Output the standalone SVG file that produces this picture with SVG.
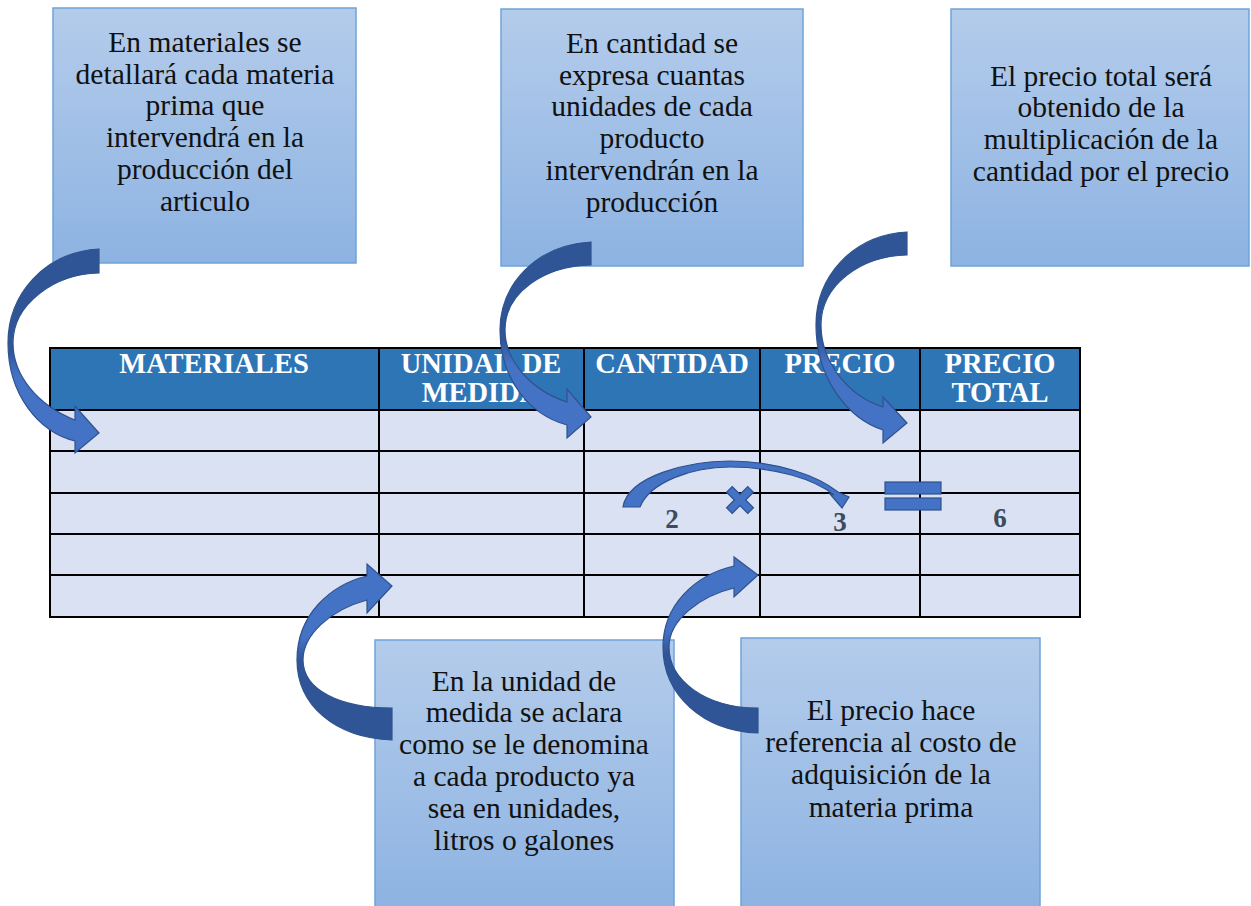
<svg xmlns="http://www.w3.org/2000/svg" width="1251" height="906" viewBox="0 0 1251 906">
<defs>
<linearGradient id="boxg" x1="0" y1="0" x2="0" y2="1">
<stop offset="0" stop-color="#b4cceb"/>
<stop offset="1" stop-color="#8db3e2"/>
</linearGradient>
<linearGradient id="arrDown" x1="0" y1="0" x2="0" y2="1">
<stop offset="0" stop-color="#2f5597"/>
<stop offset="0.5" stop-color="#2f5597"/>
<stop offset="0.62" stop-color="#4472c4"/>
<stop offset="1" stop-color="#4472c4"/>
</linearGradient>
<linearGradient id="arrUp" x1="0" y1="0" x2="0" y2="1">
<stop offset="0" stop-color="#4472c4"/>
<stop offset="0.42" stop-color="#4472c4"/>
<stop offset="0.55" stop-color="#2f5597"/>
<stop offset="1" stop-color="#2f5597"/>
</linearGradient>
<style>
.box{fill:url(#boxg);stroke:#6fa3d8;stroke-width:1.5}
.bt{font-family:"Liberation Serif","Times New Roman",serif;font-size:29.5px;fill:#111;text-anchor:middle}
.hd{fill:#2e75b6;stroke:#000;stroke-width:2}
.bd{fill:#d9e1f2;stroke:#000;stroke-width:2}
.ht{font-family:"Liberation Serif","Times New Roman",serif;font-size:28.5px;font-weight:bold;fill:#fff;text-anchor:middle}
.num{font-family:"Liberation Serif","Times New Roman",serif;font-size:27px;font-weight:bold;fill:#3d4b5c;text-anchor:middle}
.ad{fill:url(#arrDown);stroke:#2f528f;stroke-width:1.2}
.au{fill:url(#arrUp);stroke:#2f528f;stroke-width:1.2}
.sym{fill:#4472c4;stroke:#2f528f;stroke-width:1.2}
.ln{stroke:#000;stroke-width:2;fill:none}
</style>
</defs>
<rect width="1251" height="906" fill="#fff"/>

<g id="box-materiales">
<rect class="box" x="53" y="8" width="303" height="255"/>
<text class="bt" x="205"><tspan x="205" y="52">En materiales se</tspan><tspan x="205" y="83.5">detallará cada materia</tspan><tspan x="205" y="115">prima que</tspan><tspan x="205" y="147">intervendrá en la</tspan><tspan x="205" y="179">producción del</tspan><tspan x="205" y="211">articulo</tspan></text>
</g>

<g id="box-cantidad">
<rect class="box" x="501" y="9" width="302" height="257"/>
<text class="bt" x="652"><tspan x="652" y="53">En cantidad se</tspan><tspan x="652" y="85">expresa cuantas</tspan><tspan x="652" y="116">unidades de cada</tspan><tspan x="652" y="148">producto</tspan><tspan x="652" y="180">intervendrán en la</tspan><tspan x="652" y="212">producción</tspan></text>
</g>

<g id="box-precio-total">
<rect class="box" x="951" y="9" width="298" height="257"/>
<text class="bt" x="1101"><tspan x="1101" y="86">El precio total será</tspan><tspan x="1101" y="117">obtenido de la</tspan><tspan x="1101" y="149">multiplicación de la</tspan><tspan x="1101" y="181">cantidad por el precio</tspan></text>
</g>

<g id="box-unidad">
<rect class="box" x="375" y="640" width="299" height="270"/>
<text class="bt" x="524"><tspan x="524" y="691">En la unidad de</tspan><tspan x="524" y="722">medida se aclara</tspan><tspan x="524" y="754">como se le denomina</tspan><tspan x="524" y="786">a cada producto ya</tspan><tspan x="524" y="818">sea en unidades,</tspan><tspan x="524" y="850">litros o galones</tspan></text>
</g>

<g id="box-precio">
<rect class="box" x="741" y="638" width="299" height="272"/>
<text class="bt" x="891"><tspan x="891" y="720">El precio hace</tspan><tspan x="891" y="752">referencia al costo de</tspan><tspan x="891" y="784">adquisición de la</tspan><tspan x="891" y="817">materia prima</tspan></text>
</g>

<g id="table">
<rect class="hd" x="50" y="348" width="1030" height="62"/>
<rect class="bd" x="50" y="410" width="1030" height="207"/>
<path class="ln" d="M50,451H1080M50,493H1080M50,534H1080M50,575H1080M379,348V617M584,348V617M760,348V617M920,348V617"/>
<rect x="50" y="348" width="1030" height="269" fill="none" stroke="#000" stroke-width="2"/>
<text class="ht" x="214" y="373">MATERIALES</text>
<text class="ht" x="481"><tspan x="481" y="373">UNIDAD DE</tspan><tspan x="481" y="402">MEDIDA</tspan></text>
<text class="ht" x="672" y="373">CANTIDAD</text>
<text class="ht" x="840" y="373">PRECIO</text>
<text class="ht" x="1000"><tspan x="1000" y="373">PRECIO</tspan><tspan x="1000" y="402">TOTAL</tspan></text>
<text class="num" x="672" y="528">2</text>
<text class="num" x="840" y="531">3</text>
<text class="num" x="1000" y="527">6</text>
</g>

<g id="connectors">
<path class="ad" d="M99,249 C44,252 8,295 8,343 C8,395 39,432 75,441 L75,453 L99,433 L75,406 L75,420 C37,405 13,375 13,343 C13,304 54,274 99,273 Z"/>
<path class="ad" d="M591,242 C536,245 500,285 500,330 C500,380 530,415 567,425 L567,438 L591,417 L567,389 L567,402 C530,390 505,360 505,330 C505,292 545,266 591,265 Z"/>
<path class="ad" d="M907,232 C852,235 816,277 816,325 C816,378 847,418 883,430 L883,443 L907,423 L883,397 L883,407 C846,395 821,360 821,325 C821,285 861,256 907,255 Z"/>
<path class="au" d="M392,740 C335,738 297,705 297,660 C297,615 330,585 367,576 L367,564 L392,586 L367,613 L367,600 C330,610 303,635 303,660 C303,690 340,708 392,708 Z"/>
<path class="au" d="M758,733 C703,731 663,695 663,647 C663,605 695,575 734,566 L734,557 L758,575 L734,597 L734,588 C700,596 669,620 669,647 C669,680 705,708 758,708 Z"/>
<path class="sym" d="M623,507 C628,476 688,461 730,461 C777,461 818,476 838,492 L849,497 L842,508 L830,494 L834,495 C814,479 775,467 730,467 C692,467 650,482 640,507 Z"/>
</g>

<g id="operators">
<path class="sym" transform="translate(740,500) rotate(45)" d="M-4,-15H4V-4H15V4H4V15H-4V4H-15V-4H-4Z"/>
<rect class="sym" x="885" y="482" width="56" height="12"/>
<rect class="sym" x="885" y="498" width="56" height="12"/>
</g>
</svg>
